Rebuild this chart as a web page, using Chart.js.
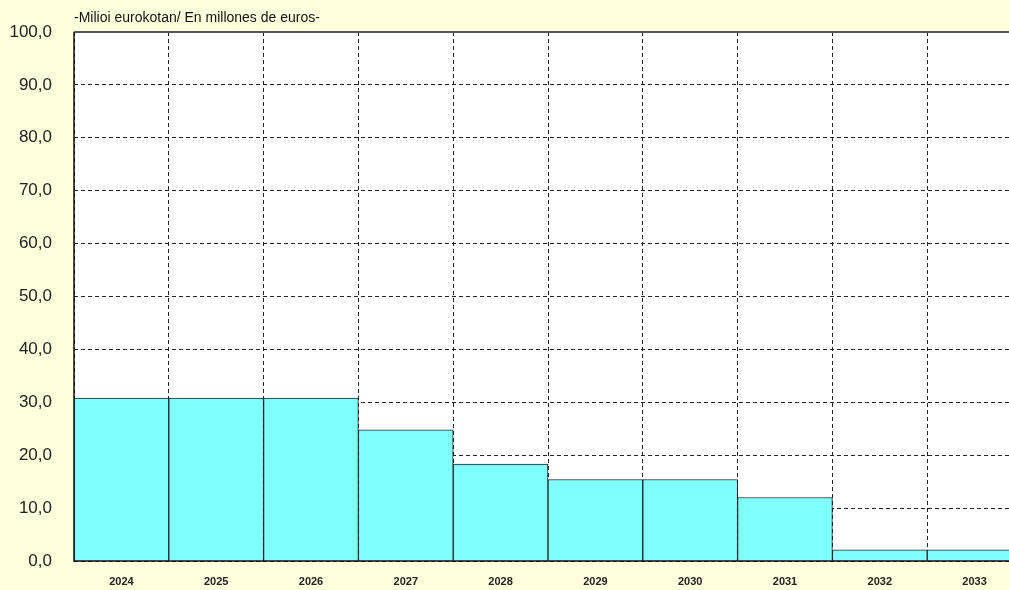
<!DOCTYPE html>
<html>
<head>
<meta charset="utf-8">
<script src="https://cdn.jsdelivr.net/npm/chart.js@4/dist/chart.umd.min.js"></script>
<style>
  html, body { margin: 0; padding: 0; background: #FFFFDD; overflow: hidden; width: 1009px; height: 590px; }
  #wrap { position: relative; width: 1024px; height: 590px; }
  #myChart { display: block; }
  #title { position: absolute; left: 74px; top: 9px; font: 14px "Liberation Sans", Arial, sans-serif; color: #111; }
</style>
</head>
<body>
<div id="wrap">
  <div id="title">-Milioi eurokotan/ En millones de euros-</div>
  <canvas id="myChart" width="1024" height="590"></canvas>
</div>
<script>
// years on the x axis
var years = ['2024', '2025', '2026', '2027', '2028', '2029', '2030', '2031', '2032', '2033'];
// millions of euros per year
var amounts = [30.8, 30.8, 30.8, 24.8, 18.3, 15.4, 15.4, 12.0, 2.1, 2.1];
// y axis range
var yMin = 0;
var yMax = 100;
var yStep = 10;

// white plot background + frame
var plotBg = {
    id: 'plotBg',
    beforeDraw: function (chart) {
        var a = chart.chartArea, ctx = chart.ctx;
        ctx.save();
        ctx.fillStyle = '#FFFFFF';
        ctx.fillRect(a.left, a.top, a.right - a.left, a.bottom - a.top);
        ctx.restore();
    },
    afterDraw: function (chart) {
        var a = chart.chartArea, ctx = chart.ctx;
        ctx.save();
        ctx.strokeStyle = '#555555';
        ctx.lineWidth = 2;
        ctx.beginPath();
        ctx.moveTo(a.left, a.top);
        ctx.lineTo(a.right, a.top);
        ctx.stroke();
        ctx.strokeStyle = '#111111';
        ctx.lineWidth = 1.5;
        ctx.beginPath();
        ctx.moveTo(a.left, a.top);
        ctx.lineTo(a.left, a.bottom);
        ctx.lineTo(a.right, a.bottom);
        ctx.stroke();
        ctx.restore();
    }
};

var ctx = document.getElementById('myChart').getContext('2d');
var chart = new Chart(ctx, {
    type: 'bar',
    data: {
        labels: years,
        datasets: [{
            data: amounts,
            backgroundColor: '#80FFFF',
            borderColor: '#222222',
            borderWidth: 1,
            barPercentage: 1,
            categoryPercentage: 1
        }]
    },
    options: {
        responsive: false,
        animation: false,
        layout: { padding: { top: 32, right: 2, left: 0, bottom: 0 } },
        plugins: {
            legend: { display: false },
            tooltip: { enabled: false }
        },
        scales: {
            x: {
                grid: {
                    offset: true,
                    color: '#222222',
                    drawTicks: false
                },
                border: { display: false, dash: [4, 3] },
                ticks: {
                    color: '#222222',
                    padding: 14,
                    maxRotation: 0,
                    font: { family: '"Liberation Sans", Arial, sans-serif', size: 11, weight: 'bold' }
                },
                afterFit: function (scale) { scale.height = 29; }
            },
            y: {
                min: yMin,
                max: yMax,
                grid: { color: '#222222', drawTicks: false },
                border: { display: false, dash: [4, 3] },
                ticks: {
                    stepSize: yStep,
                    padding: 22,
                    color: '#222222',
                    font: { family: '"Liberation Sans", Arial, sans-serif', size: 17 },
                    callback: function (v) { return v.toFixed(1).replace('.', ','); }
                },
                afterFit: function (scale) {
                    scale.width = 74;
                    // tick padding would otherwise push the plot away from top/bottom
                    scale.paddingTop = 0;
                    scale.paddingBottom = 0;
                }
            }
        }
    },
    plugins: [plotBg]
});
</script>
</body>
</html>
